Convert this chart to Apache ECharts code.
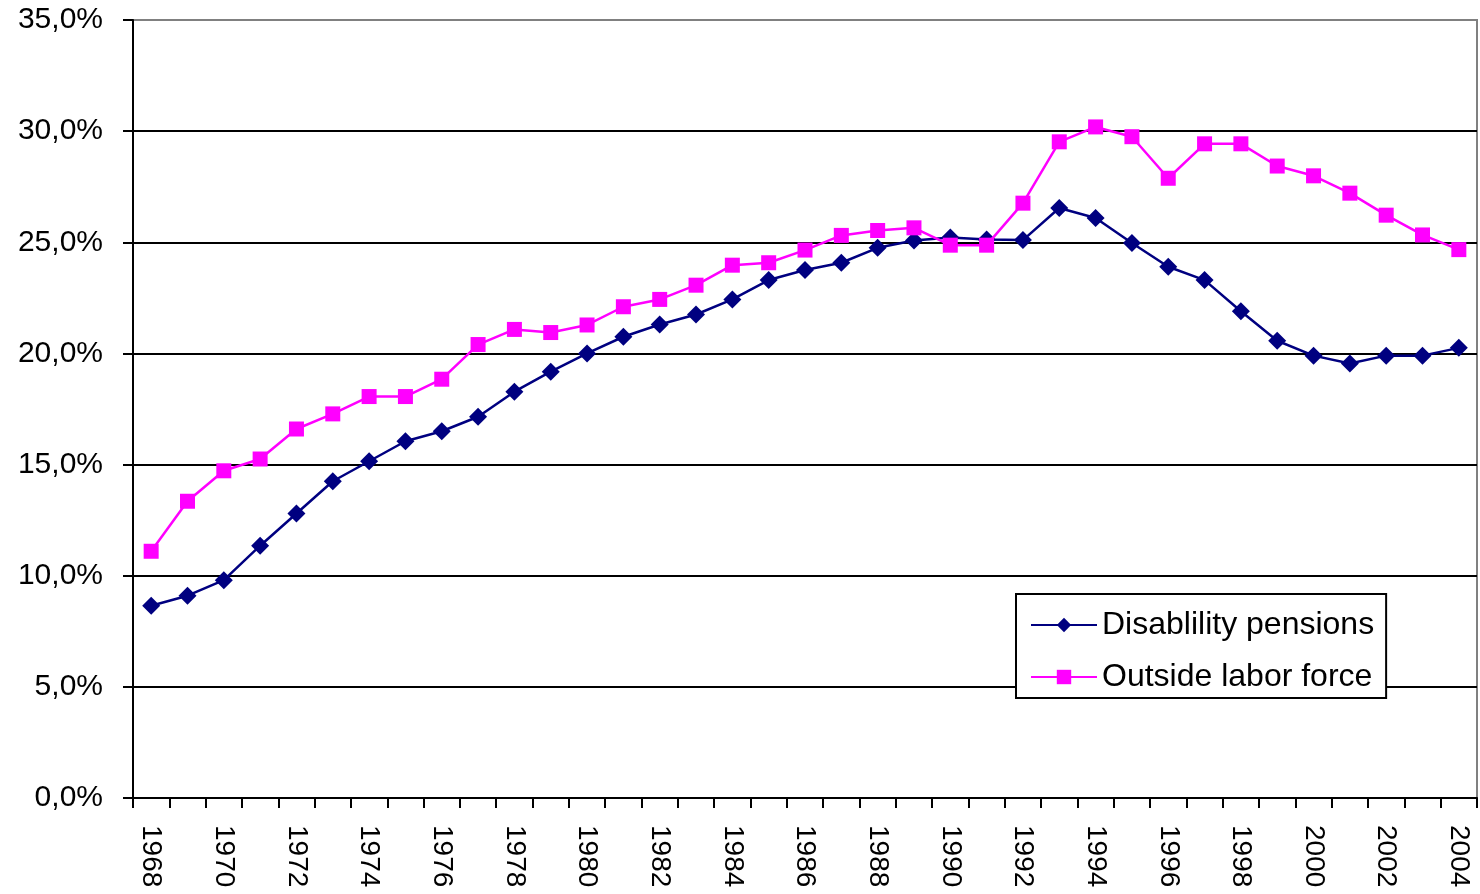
<!DOCTYPE html>
<html>
<head>
<meta charset="utf-8">
<script src="https://cdn.jsdelivr.net/npm/echarts@6/dist/echarts.min.js"></script>
<style>
html,body{margin:0;padding:0;background:#fff;}
#chart{width:1480px;height:894px;}
</style>
</head>
<body>
<div id="chart"></div>
<script>
const years = ['1968','1969','1970','1971','1972','1973','1974','1975','1976','1977','1978','1979','1980','1981','1982','1983','1984','1985','1986','1987','1988','1989','1990','1991','1992','1993','1994','1995','1996','1997','1998','1999','2000','2001','2002','2003','2004'];
const disability = [8.65,9.1,9.8,11.35,12.8,14.25,15.15,16.05,16.5,17.15,18.28,19.18,20.0,20.75,21.3,21.75,22.43,23.3,23.75,24.08,24.75,25.08,25.22,25.12,25.1,26.54,26.09,24.97,23.9,23.3,21.9,20.57,19.9,19.55,19.9,19.9,20.25];
const outside = [11.1,13.35,14.72,15.25,16.6,17.28,18.06,18.06,18.84,20.4,21.08,20.94,21.28,22.1,22.43,23.07,23.97,24.08,24.65,25.31,25.53,25.65,24.87,24.87,26.76,29.52,30.19,29.75,27.88,29.43,29.43,28.43,27.99,27.21,26.22,25.33,24.67];
const seriesNames = ['Disablility pensions','Outside labor force'];
const yTicks = {min:0, max:35, interval:5};

const FONT = 'Arial, "Liberation Sans", sans-serif';
const chart = echarts.init(document.getElementById('chart'), null, {renderer:'canvas'});
chart.setOption({
  animation:false,
  backgroundColor:'#fff',
  grid:{left:133, right:3, top:20, bottom:96, show:true, borderColor:'#808080', borderWidth:2, backgroundColor:'#fff'},
  legend:{
    orient:'vertical', left:1016, top:594,
    padding:[13,12,3,14], itemGap:16, itemWidth:66, itemHeight:18,
    borderColor:'#000', borderWidth:2, backgroundColor:'#fff', borderRadius:0,
    textStyle:{fontFamily:FONT, fontSize:32, color:'#000', lineHeight:36},
    data:seriesNames
  },
  xAxis:{
    type:'category', data:years, boundaryGap:true,
    axisLine:{lineStyle:{color:'#000', width:2}},
    axisTick:{show:true, length:10, lineStyle:{color:'#000', width:2}, interval:0},
    axisLabel:{interval:1, rotate:-90, margin:27, fontFamily:FONT, fontSize:28, color:'#000'},
    splitLine:{show:false}
  },
  yAxis:{
    type:'value', min:yTicks.min, max:yTicks.max, interval:yTicks.interval,
    axisLine:{show:true, lineStyle:{color:'#000', width:2}},
    axisTick:{show:true, length:10, lineStyle:{color:'#000', width:2}},
    axisLabel:{margin:30, fontFamily:FONT, fontSize:30, color:'#000',
      formatter:v=>v.toFixed(1).replace('.',',')+'%'},
    splitLine:{show:true, lineStyle:{color:['#000','#000','#000','#000','#000','#000','#000','#808080'], width:2}}
  },
  series:[
    {name:seriesNames[0], type:'line', data:disability, symbol:'diamond', symbolSize:18,
      lineStyle:{color:'#000080', width:2.5}, itemStyle:{color:'#000080'}, z:2},
    {name:seriesNames[1], type:'line', data:outside, symbol:'rect', symbolSize:15,
      lineStyle:{color:'#FF00FF', width:2.5}, itemStyle:{color:'#FF00FF'}, z:3}
  ]
});
</script>
</body>
</html>
